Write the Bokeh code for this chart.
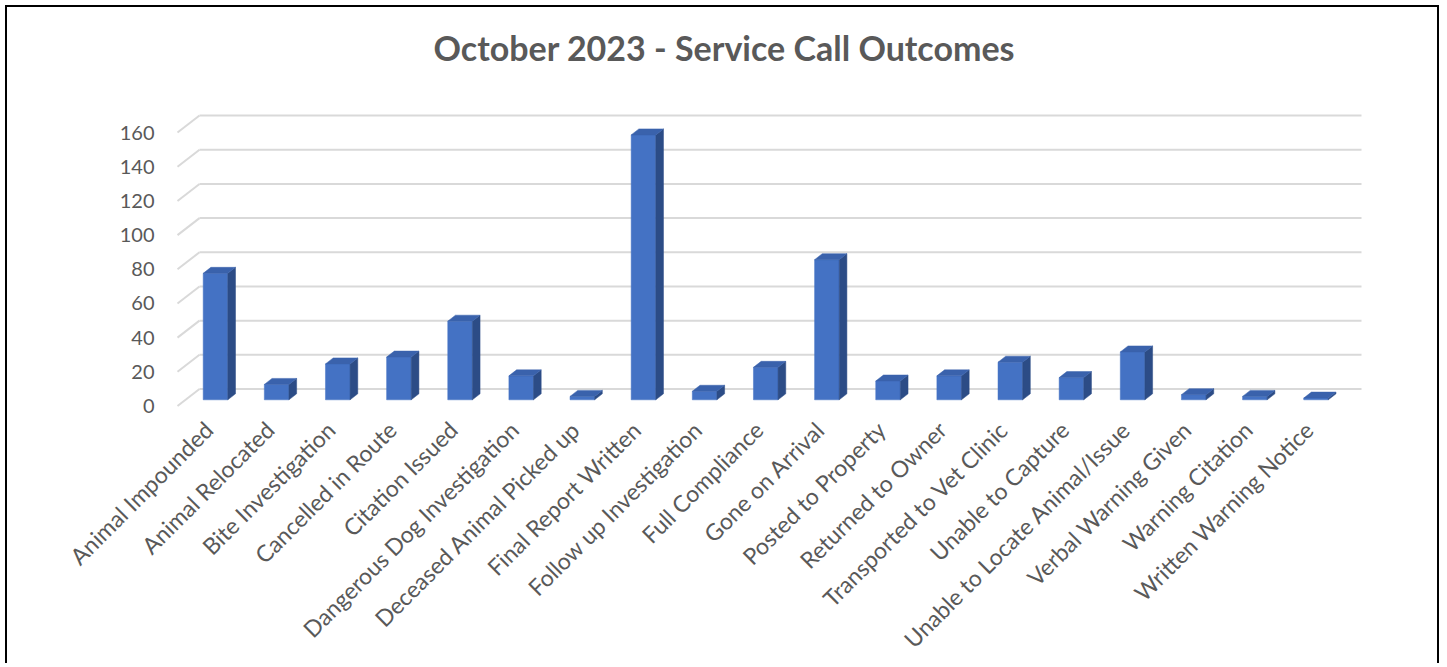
import math
from bokeh.plotting import figure
from bokeh.models import Range1d, FixedTicker, ColumnDataSource
from bokeh.embed import file_html
from bokeh.resources import INLINE

# ---------------- data ----------------
categories = [
    "Animal Impounded", "Animal Relocated", "Bite Investigation", "Cancelled in Route",
    "Citation Issued", "Dangerous Dog Investigation", "Deceased Animal Picked up",
    "Final Report Written", "Follow up Investigation", "Full Compliance", "Gone on Arrival",
    "Posted to Property", "Returned to Owner", "Transported to Vet Clinic", "Unable to Capture",
    "Unable to Locate Animal/Issue", "Verbal Warning Given", "Warning Citation",
    "Written Warning Notice",
]
counts = [74, 9, 21, 25, 46, 14, 2, 155, 5, 19, 82, 11, 14, 22, 13, 28, 3, 2, 1]
y_ticks = [0, 20, 40, 60, 80, 100, 120, 140, 160]
title_text = "October 2023 - Service Call Outcomes"

# ---------------- geometry (pixels) ----------------
MARGIN = 5                        # outer white margin before the border
BORDER = 2
ORIGIN = MARGIN + BORDER          # page offset of canvas
W, H = 1434, 658
FL, FR, FT, FB = 160 - ORIGIN, 1370 - ORIGIN, 70 - ORIGIN, 409 - ORIGIN  # frame, canvas px
TICK0_X = 208 - ORIGIN            # canvas x of first category tick
BAR_SHIFT_PX = 7                  # bar front centre relative to its tick
BAR_STEP = 61.14                  # px between bars
Y0 = 405.5 - ORIGIN               # canvas y of value 0 on front edge
PX_PER_UNIT = 1.709               # px per count
TITLE_LEFT = 433 - ORIGIN         # canvas x where the title starts

def dxu(px):
    return px / BAR_STEP

def dyu(px):
    return px / PX_PER_UNIT

def page_x(px_page):
    return (px_page - ORIGIN - TICK0_X) / BAR_STEP

x_start = (FL - TICK0_X) / BAR_STEP
x_end = (FR - TICK0_X) / BAR_STEP
y_start = -(FB - Y0) / PX_PER_UNIT
y_end = (Y0 - FT) / PX_PER_UNIT

GRID = "#d9d9d9"
TXT = "#595959"
FRONT = "#4472C4"
TOP = "#3A62AC"
SIDE = "#2C4C86"
FONT = "Lato"

p = figure(width=W, height=H, output_backend="svg", toolbar_location=None,
           x_range=Range1d(x_start, x_end), y_range=Range1d(y_start, y_end),
           min_border_left=FL, min_border_right=W - FR,
           min_border_top=FT, min_border_bottom=H - FB)
p.styles = {"margin-top": f"{MARGIN}px", "margin-left": f"{MARGIN}px",
            "border-top": "2px solid #000", "border-left": "2px solid #000",
            "border-right": "2px solid #000"}
p.outline_line_color = None
p.background_fill_color = "white"
p.border_fill_color = "white"
p.xgrid.visible = False
p.ygrid.visible = False

# title
p.title.text = title_text
p.title.align = "left"
p.title.offset = TITLE_LEFT - FL
p.title.text_font = FONT
p.title.text_font_style = "bold"
p.title.text_font_size = "34px"
p.title.text_color = TXT
p.title.standoff = 5

# ---------------- walls / gridlines ----------------
depth_dy = dyu(17)
xf = page_x(177)          # front edge of side wall
xb0 = page_x(199)         # back wall left
xb1 = page_x(1361)        # back wall right
p.multi_line(xs=[[xb0, xb1] for t in y_ticks],
             ys=[[t + depth_dy, t + depth_dy] for t in y_ticks],
             line_color=GRID, line_width=2)
p.multi_line(xs=[[xf, xb0] for t in y_ticks],
             ys=[[t, t + depth_dy] for t in y_ticks],
             line_color=GRID, line_width=2)

# ---------------- bars ----------------
xs = list(range(len(categories)))
shift = dxu(BAR_SHIFT_PX)
base = dyu(6.2)
hw = dxu(12.3)
bdx = dxu(7.7)
bdy = dyu(6.0)

src = ColumnDataSource(dict(
    x=[x + shift for x in xs], bottom=[base] * len(xs), top=[base + v for v in counts],
))
p.vbar(x="x", width=2 * hw, bottom="bottom", top="top", source=src,
       fill_color=FRONT, line_color=FRONT, line_width=0.5)

top_xs, top_ys, side_xs, side_ys = [], [], [], []
for x, v in zip(xs, counts):
    c = x + shift
    t = base + v
    top_xs.append([c - hw, c + hw, c + hw + bdx, c - hw + bdx])
    top_ys.append([t, t, t + bdy, t + bdy])
    side_xs.append([c + hw, c + hw + bdx, c + hw + bdx, c + hw])
    side_ys.append([base, base + bdy, t + bdy, t])
p.patches(side_xs, side_ys, fill_color=SIDE, line_color=SIDE, line_width=0.5)
p.patches(top_xs, top_ys, fill_color=TOP, line_color=TOP, line_width=0.5)

# ---------------- axes ----------------
p.yaxis.ticker = FixedTicker(ticks=y_ticks)
p.yaxis.axis_line_color = None
p.yaxis.major_tick_line_color = None
p.yaxis.minor_tick_line_color = None
p.yaxis.major_label_standoff = 0
p.yaxis.major_label_text_font = FONT
p.yaxis.major_label_text_font_size = "20px"
p.yaxis.major_label_text_color = TXT

p.xaxis.ticker = FixedTicker(ticks=xs)
p.xaxis.major_label_overrides = {i: c for i, c in zip(xs, categories)}
p.xaxis.major_label_orientation = math.pi / 4
p.xaxis.axis_line_color = None
p.xaxis.major_tick_line_color = None
p.xaxis.minor_tick_line_color = None
p.xaxis.major_label_standoff = 10
p.xaxis.major_label_text_font = FONT
p.xaxis.major_label_text_font_size = "23px"
p.xaxis.major_label_text_color = TXT

open("out.html", "w").write(file_html(p, INLINE))
